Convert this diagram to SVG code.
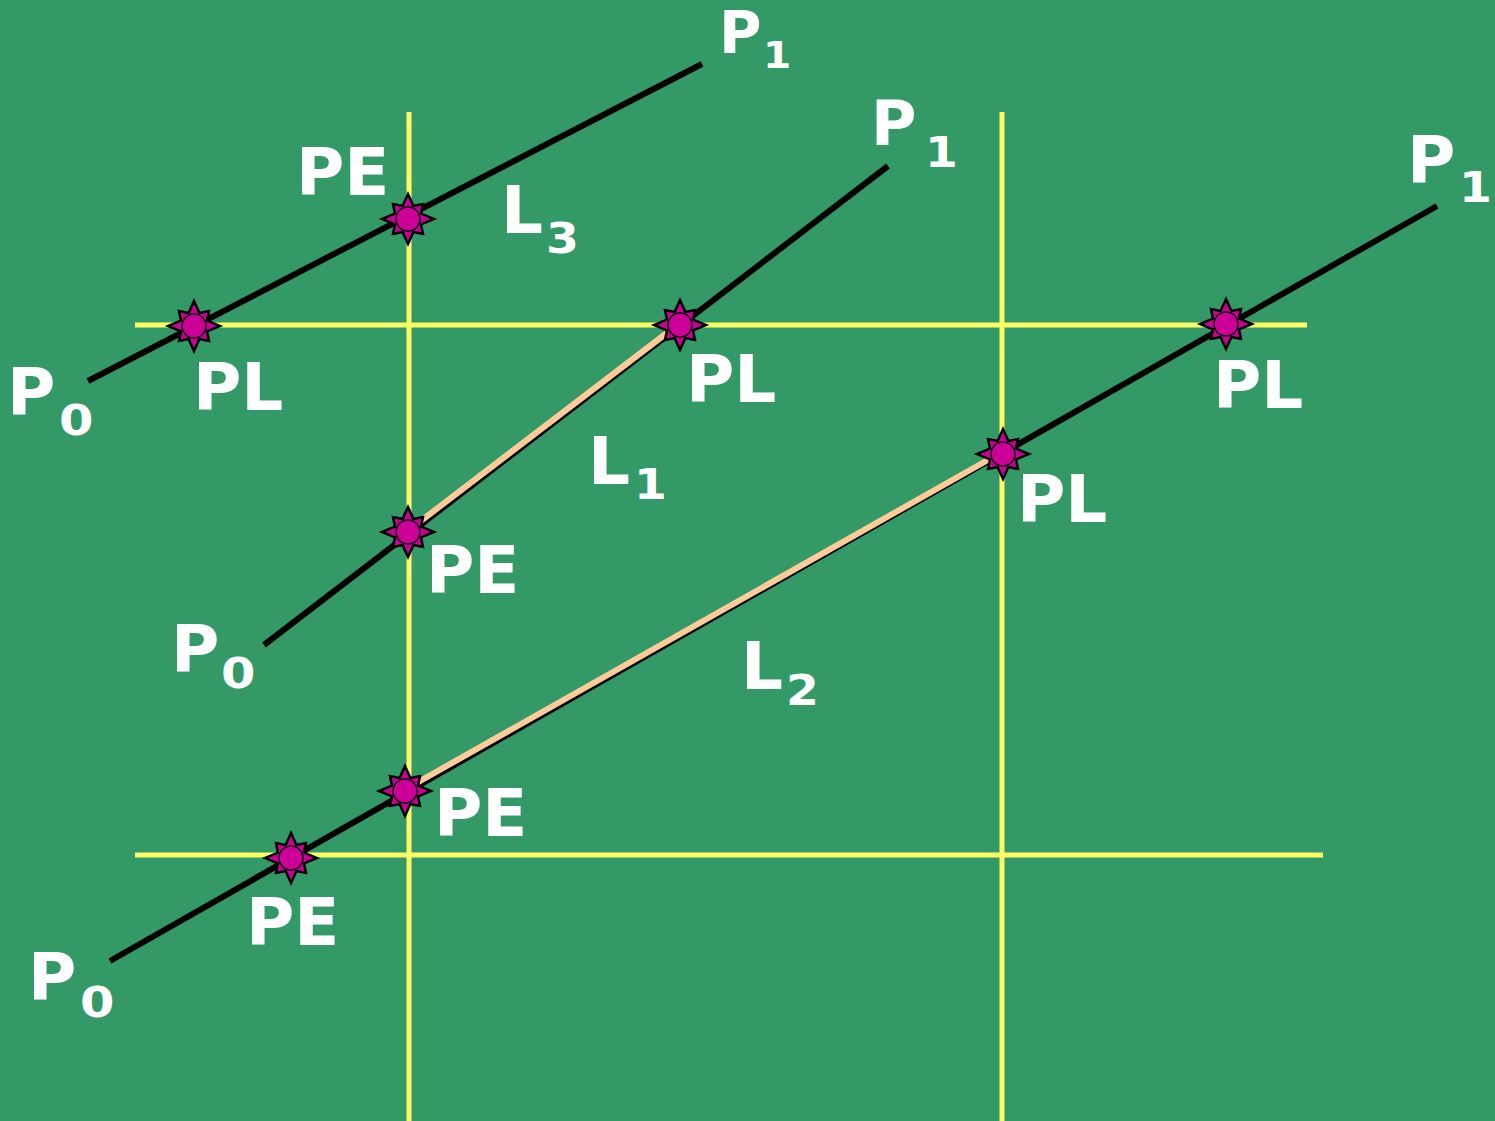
<svg xmlns="http://www.w3.org/2000/svg" width="1495" height="1121" viewBox="0 0 1495 1121">
<style>
.grid{stroke:#FFFF66;stroke-width:5;fill:none}
.ln{stroke:#000;stroke-width:6;fill:none}
.seg{stroke:#FFCC99;stroke-width:6;fill:none;stroke-linecap:round}
text{font-family:"DejaVu Sans","Verdana",sans-serif;font-weight:bold;fill:#fff}
.m{font-size:66px}
.s{font-size:43px}
</style>
<defs>
<g id="star">
<polygon points="0,-25 5.4,-13 15,-15 13,-5.4 26,0 13,5.4 15,15 5.4,13 0,25 -5.4,13 -15,15 -13,5.4 -26,0 -13,-5.4 -15,-15 -5.4,-13" fill="#CC0099" stroke="#000" stroke-width="2.5" stroke-linejoin="miter"/>
<circle r="12" fill="#CC0099" stroke="#000" stroke-width="1.5"/>
</g>
</defs>
<rect width="1495" height="1121" fill="#339966"/>
<g id="grid">
<line class="grid" x1="135" y1="325" x2="1307" y2="325"/>
<line class="grid" x1="135" y1="855" x2="1323" y2="855"/>
<line class="grid" x1="409" y1="112" x2="409" y2="1121"/>
<line class="grid" x1="1002" y1="112" x2="1002" y2="1121"/>
</g>
<g id="connectors">
<line class="ln" x1="88" y1="381" x2="702" y2="64"/>
<line class="ln" x1="264" y1="645" x2="888" y2="166"/>
<line class="ln" x1="110" y1="961" x2="1437" y2="206"/>
<line class="seg" x1="409" y1="530" x2="680" y2="323"/>
<line class="seg" x1="406" y1="789" x2="1002" y2="452"/>
</g>
<g id="markers">
<use href="#star" x="194" y="326"/>
<use href="#star" x="408" y="219"/>
<use href="#star" x="680" y="325"/>
<use href="#star" x="408" y="532"/>
<use href="#star" x="1226" y="324"/>
<use href="#star" x="1003" y="454"/>
<use href="#star" x="405" y="791"/>
<use href="#star" x="291" y="858"/>
</g>
<g id="labels">
<text x="719" y="53" style="font-size:58px">P</text><text transform="translate(763,68) scale(1.1,1)" style="font-size:37px">1</text>
<text x="871" y="145" style="font-size:62px">P</text><text transform="translate(925,167) scale(1.1,1)" class="s">1</text>
<text x="1407" y="183" class="m">P</text><text transform="translate(1459,202) scale(1.1,1)" class="s">1</text>
<text x="296" y="195" class="m">PE</text>
<text x="501" y="233" class="m">L</text><text transform="translate(546,253) scale(1.1,1)" class="s">3</text>
<text x="7" y="415" class="m">P</text><text transform="translate(59,435) scale(1.15,1)" class="s">0</text>
<text x="193" y="410" class="m">PL</text>
<text x="686" y="402" class="m">PL</text>
<text x="1213" y="408" class="m">PL</text>
<text x="588" y="484" class="m">L</text><text transform="translate(634,499) scale(1.1,1)" class="s">1</text>
<text x="1017" y="522" class="m">PL</text>
<text x="426" y="593" class="m">PE</text>
<text x="171" y="672" class="m">P</text><text transform="translate(221,688) scale(1.15,1)" class="s">0</text>
<text x="741" y="689" class="m">L</text><text transform="translate(786,705) scale(1.1,1)" class="s">2</text>
<text x="434" y="836" class="m">PE</text>
<text x="246" y="945" class="m">PE</text>
<text x="28" y="1000" class="m">P</text><text transform="translate(80,1017) scale(1.15,1)" class="s">0</text>
</g>
</svg>
